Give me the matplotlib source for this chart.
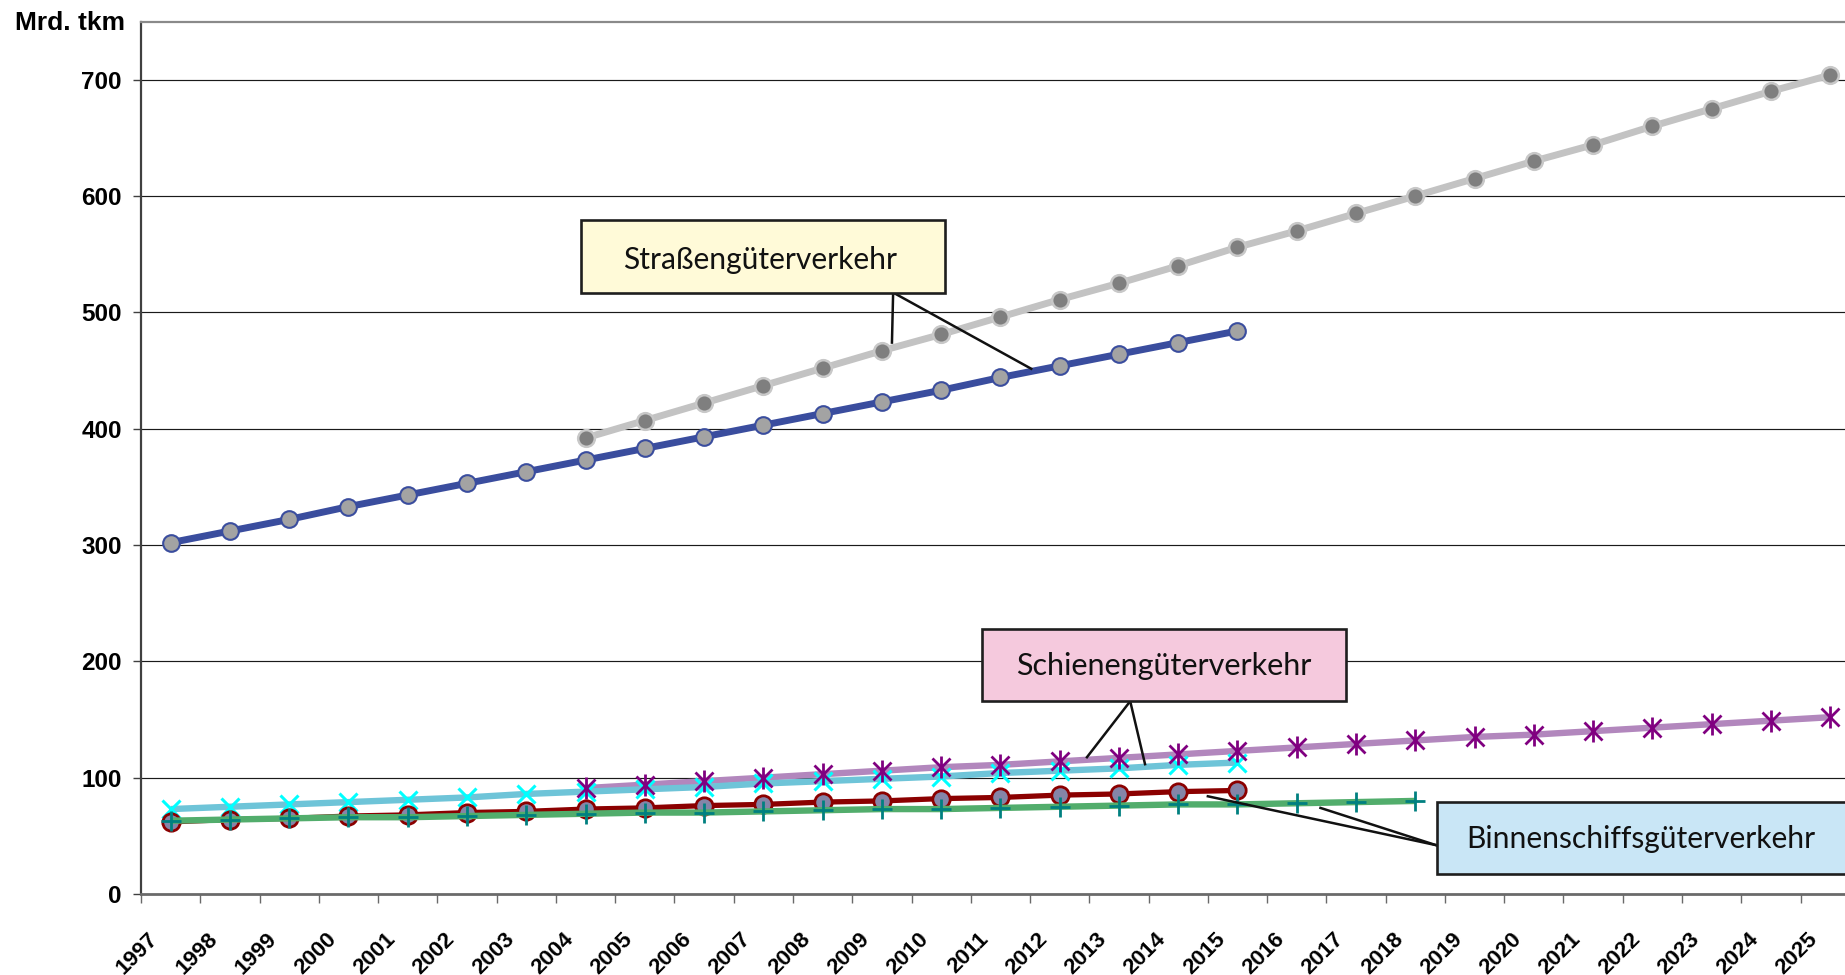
import matplotlib
matplotlib.use("Agg")
import matplotlib.pyplot as plt
from matplotlib.patches import Rectangle
from matplotlib.transforms import offset_copy

plt.rcParams["savefig.bbox"] = None

# ---------------- data ----------------
years = list(range(1997, 2026))
y_ticks = [0, 100, 200, 300, 400, 500, 600, 700]
y_unit = "Mrd. tkm"

road_actual_years = list(range(1997, 2016))
road_actual = [302, 312, 322, 333, 343, 353, 363, 373, 383, 393, 403, 413, 423, 433, 444, 454, 464, 474, 484]
road_fc_years = list(range(2004, 2026))
road_fc = [392, 407, 422, 437, 452, 467, 481, 496, 511, 525, 540, 556, 570, 585, 600, 615, 630, 644, 660, 675, 690, 704]

rail_actual_years = list(range(1997, 2016))
rail_actual = [73, 75, 77, 79, 81, 83, 86, 88, 90, 92, 95, 97, 99, 101, 104, 106, 108, 111, 113]
rail_fc_years = list(range(2004, 2026))
rail_fc = [91, 94, 97, 100, 103, 106, 109, 111, 114, 117, 120, 123, 126, 129, 132, 135, 137, 140, 143, 146, 149, 152]

water_actual_years = list(range(1997, 2016))
water_actual = [62, 64, 65, 67, 68, 70, 71, 73, 74, 76, 77, 79, 80, 82, 83, 85, 86, 88, 89]
water_fc_years = list(range(1997, 2019))
water_fc = [63, 64, 65, 66, 66, 67, 68, 69, 70, 70, 71, 72, 73, 73, 74, 75, 76, 77, 77, 78, 79, 80]

label_road = "Straßengüterverkehr"
label_rail = "Schienengüterverkehr"
label_water = "Binnenschiffsgüterverkehr"

# ---------------- figure ----------------
W, H = 1845, 975
fig = plt.figure(figsize=(W / 100, H / 100), dpi=100)
ax_left, ax_top, ax_bottom = 141, 21.5, 894
ax = fig.add_axes([ax_left / W, 1 - ax_bottom / H, 1 - ax_left / W, (ax_bottom - ax_top) / H])
XMAX = (W - ax_left) / 59.27 - 0.5

def idx(yrs):
    return [y - years[0] for y in yrs]

# grid
for v in y_ticks[1:]:
    ax.axhline(v, color="#1A1A1A", lw=0.85, zorder=1)

# road forecast (grey)
ax.plot(idx(road_fc_years), road_fc, color="#C3C3C3", lw=5.0, marker="o", ms=12,
        mfc="#7F7F7F", mec="#C8C8C8", mew=1.8, zorder=3, solid_capstyle="butt")
# road actual (blue)
ax.plot(idx(road_actual_years), road_actual, color="#3A4D9E", lw=5.0, marker="o", ms=12,
        mfc="#A3A3A3", mec="#3A4D9E", mew=1.5, zorder=4, solid_capstyle="butt")
# rail forecast (purple)
ax.plot(idx(rail_fc_years), rail_fc, color="#B287BD", lw=4.6, zorder=3, solid_capstyle="butt")
ax.plot(idx(rail_fc_years), rail_fc, ls="none", marker="x", ms=13.5, mec="#800080", mew=2.0, zorder=5)
ax.plot(idx(rail_fc_years), rail_fc, ls="none", marker="|", ms=15.5, mec="#800080", mew=2.0, zorder=5)
# rail actual (light blue)
ax.plot(idx(rail_actual_years), rail_actual, color="#6EC4D8", lw=4.6, zorder=4, solid_capstyle="butt")
ax.plot(idx(rail_actual_years), rail_actual, ls="none", marker="x", ms=13.5, mec="#00FFFF", mew=2.2, zorder=4)
# waterway actual (dark red)
ax.plot(idx(water_actual_years), water_actual, color="#8B0000", lw=3.8, marker="o", ms=12.5,
        mfc="#8585A8", mec="#8B0000", mew=2.0, zorder=5, solid_capstyle="butt")
# waterway forecast (green)
ax.plot(idx(water_fc_years), water_fc, color="#52AD6C", lw=4.6, zorder=6, solid_capstyle="butt")
ax.plot(idx(water_fc_years), water_fc, ls="none", marker="+", ms=14.5, mec="#008080", mew=2.0, zorder=7)

# axes ranges
ax.set_xlim(-0.5, XMAX)
ax.set_ylim(0, 750)
ax.set_autoscale_on(False)

# spines
ax.spines["right"].set_visible(False)
ax.spines["top"].set_color("#8A8A8A")
ax.spines["top"].set_linewidth(1.6)
ax.spines["left"].set_color("#404040")
ax.spines["left"].set_linewidth(1.6)
ax.spines["bottom"].set_color("#6A6A6A")
ax.spines["bottom"].set_linewidth(2.0)

# y ticks
ax.set_yticks(y_ticks)
ax.set_yticklabels([str(v) for v in y_ticks], fontsize=17.5, fontweight="bold",
                   family="Liberation Sans")
ax.tick_params(axis="y", direction="out", length=5.8, width=1.0, color="#404040", pad=8)

# x ticks at category boundaries
ax.set_xticks([i - 0.5 for i in range(len(years) + 1)])
ax.set_xticklabels([])
ax.tick_params(axis="x", direction="out", length=6.5, width=1.0, color="#6A6A6A")
ax.set_xlim(-0.5, XMAX)

xlab_tr = offset_copy(ax.get_xaxis_transform(), fig=fig, x=-11.5, y=-45.5, units="dots")
for i, yr in enumerate(years):
    ax.text(i, 0, str(yr), transform=xlab_tr, rotation=45, rotation_mode="anchor",
            ha="right", va="baseline", fontsize=16, fontweight="bold",
            family="Liberation Sans", clip_on=False)

fig.text(125 / W, 1 - 30.5 / H, y_unit, ha="right", va="baseline", fontsize=19,
         fontweight="bold", family="Liberation Sans")

# ---------------- annotation boxes ----------------
box_font = "Lato"

def box(x0, x1, y0, y1, fc, text, tx, ty, target_px):
    ax.add_patch(Rectangle((x0, y0), x1 - x0, y1 - y0, facecolor=fc, edgecolor="#1E1E1E",
                           lw=1.9, zorder=8, clip_on=False))
    t = ax.text(tx, ty, text, ha="center", va="baseline", fontsize=20, family=box_font,
                color="#111111", zorder=9, clip_on=False)
    r = fig.canvas.get_renderer()
    w = t.get_window_extent(renderer=r).width
    t.set_fontsize(20 * target_px / w)

def leader(ax_pt, ends):
    for e in ends:
        ax.plot([ax_pt[0], e[0]], [ax_pt[1], e[1]], color="#111111", lw=1.8, zorder=7,
                clip_on=False)

leader((12.19, 517), [(12.17, 474), (14.52, 451.5)])
box(6.92, 13.07, 517, 579, "#FFFAD8", label_road, 9.94, 537.3, 275)

leader((16.19, 165.7), [(15.46, 117.6), (16.44, 111.6)])
box(13.69, 19.83, 165.7, 228, "#F5C9DD", label_rail, 16.75, 188, 297)

leader((21.35, 42), [(17.5, 84), (19.4, 74)])
box(21.37, XMAX + 0.05, 17.2, 79, "#C9E6F6", label_water, 24.8, 39.5, 350)

fig.savefig("out.png", dpi=100, facecolor="white")
